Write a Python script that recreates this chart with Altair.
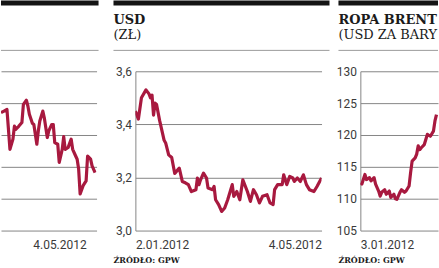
import altair as alt
import pandas as pd

# ---------------- data ----------------
# Left panel: only its right-hand part is visible in the picture (units = gridline steps)
left_dates = ["2012-03-08", "2012-03-10", "2012-03-12", "2012-03-13", "2012-03-14", "2012-03-16",
              "2012-03-17", "2012-03-18", "2012-03-20", "2012-03-22", "2012-03-23", "2012-03-25",
              "2012-03-26", "2012-03-27", "2012-03-29", "2012-03-30", "2012-04-01", "2012-04-02",
              "2012-04-03", "2012-04-05", "2012-04-06", "2012-04-08", "2012-04-09", "2012-04-11",
              "2012-04-12", "2012-04-13", "2012-04-15", "2012-04-16", "2012-04-18", "2012-04-19",
              "2012-04-20", "2012-04-22", "2012-04-24", "2012-04-25", "2012-04-27", "2012-04-28",
              "2012-04-29", "2012-04-30", "2012-05-02", "2012-05-04", "2012-05-05", "2012-05-07",
              "2012-05-08", "2012-05-10"]
left_values = [3.70, 3.75, 3.80, 3.18, 2.55, 2.87,
               3.28, 3.18, 3.28, 3.39, 3.96, 4.09,
               3.91, 3.65, 3.37, 3.33, 2.71, 3.13,
               3.44, 3.75, 3.54, 2.92, 3.13, 3.33,
               3.33, 2.76, 2.71, 2.14, 2.55, 2.95,
               2.55, 2.61, 2.87, 2.55, 2.34, 2.24,
               1.93, 1.15, 1.41, 1.56, 2.34, 2.24,
               2.03, 1.82]
left_ticks = [0, 1, 2, 3, 4, 5]

# USD (zł)
usd_dates = ["2012-01-02", "2012-01-04", "2012-01-06", "2012-01-09", "2012-01-11", "2012-01-12",
             "2012-01-13", "2012-01-14", "2012-01-15", "2012-01-16", "2012-01-18", "2012-01-21",
             "2012-01-22", "2012-01-24", "2012-01-26", "2012-01-28", "2012-01-29", "2012-01-31",
             "2012-02-02", "2012-02-04", "2012-02-06", "2012-02-08", "2012-02-11", "2012-02-12",
             "2012-02-13", "2012-02-14", "2012-02-16", "2012-02-18", "2012-02-19", "2012-02-22",
             "2012-02-23", "2012-02-24", "2012-02-26", "2012-02-28", "2012-03-01", "2012-03-03",
             "2012-03-06", "2012-03-07", "2012-03-09", "2012-03-11", "2012-03-13", "2012-03-16",
             "2012-03-18", "2012-03-20", "2012-03-22", "2012-03-24", "2012-03-26", "2012-03-29",
             "2012-03-31", "2012-04-02", "2012-04-03", "2012-04-05", "2012-04-08", "2012-04-09",
             "2012-04-11", "2012-04-13", "2012-04-15", "2012-04-16", "2012-04-18", "2012-04-20",
             "2012-04-22", "2012-04-24", "2012-04-26", "2012-04-29", "2012-05-01", "2012-05-04"]
usd_values = [3.450, 3.420, 3.500, 3.530, 3.515, 3.500,
              3.510, 3.435, 3.480, 3.475, 3.415, 3.340,
              3.330, 3.285, 3.275, 3.215, 3.222, 3.235,
              3.185, 3.180, 3.173, 3.147, 3.154, 3.198,
              3.173, 3.190, 3.216, 3.198, 3.160, 3.154,
              3.166, 3.116, 3.098, 3.072, 3.085, 3.116,
              3.173, 3.129, 3.147, 3.116, 3.191, 3.147,
              3.110, 3.154, 3.135, 3.104, 3.129, 3.135,
              3.104, 3.098, 3.154, 3.173, 3.173, 3.210,
              3.173, 3.204, 3.198, 3.185, 3.198, 3.185,
              3.210, 3.173, 3.154, 3.147, 3.166, 3.198]
usd_ticks = [3.0, 3.2, 3.4, 3.6]

# Ropa Brent (USD za baryłkę) - only the first part is visible
brent_dates = ["2012-01-03", "2012-01-04", "2012-01-06", "2012-01-07", "2012-01-09", "2012-01-10",
               "2012-01-12", "2012-01-13", "2012-01-15", "2012-01-16", "2012-01-17", "2012-01-19",
               "2012-01-20", "2012-01-22", "2012-01-23", "2012-01-25", "2012-01-26", "2012-01-27",
               "2012-01-29", "2012-01-30", "2012-02-01", "2012-02-02", "2012-02-04", "2012-02-05",
               "2012-02-06", "2012-02-08", "2012-02-09", "2012-02-10", "2012-02-11", "2012-02-12",
               "2012-02-14", "2012-02-15", "2012-02-16", "2012-02-18", "2012-02-20", "2012-02-21",
               "2012-02-22"]
brent_values = [112.5, 112.3, 113.8, 113.0, 113.3, 112.8,
                113.3, 112.3, 111.2, 110.4, 111.0, 111.4,
                110.7, 111.2, 110.2, 110.7, 110.0, 109.9,
                111.0, 111.4, 111.0, 111.2, 112.0, 114.1,
                115.9, 116.4, 117.0, 118.3, 117.7, 118.0,
                118.5, 119.3, 120.1, 119.8, 120.6, 122.2,
                123.2]
brent_ticks = [105, 110, 115, 120, 125, 130]

# ---------------- styling ----------------
LINE = "#a8193f"
GRID = "#858585"
LABEL_FONT = "Roboto"
LABEL_SIZE = 12
SERIF = "DejaVu Serif"
H = 160


def dt(y, m, d):
    return alt.DateTime(year=y, month=m, date=d)


def one_row():
    return pd.DataFrame({"k": [0]})


def panel(dates, values, width, xdom, xticks, ydom, yticks, *, ylabels=True,
          ylabel_expr=None, x_right_align=False, title=None, subtitle=None,
          source=None, left=-22, right_extra=8):
    df = pd.DataFrame({"date": pd.to_datetime(dates), "value": values})
    limit = width + right_extra - left

    x_axis_kwargs = dict(values=xticks, format="%-d.%m.%Y", grid=False, ticks=False,
                         domain=False, labelFont=LABEL_FONT, labelFontSize=LABEL_SIZE,
                         labelColor="#3a3a3a", labelPadding=9, title=None)
    if x_right_align:
        x_axis_kwargs.update(labelAlign="right", labelFlush=False)
    else:
        x_axis_kwargs.update(labelFlush=True)

    y_axis_kwargs = dict(values=yticks, grid=True, gridColor=GRID, gridWidth=1,
                         ticks=False, domain=ylabels, domainColor=GRID, domainWidth=1,
                         labels=ylabels, labelFont=LABEL_FONT, labelFontSize=LABEL_SIZE,
                         labelColor="#3a3a3a", labelPadding=4, title=None)
    if ylabel_expr:
        y_axis_kwargs["labelExpr"] = ylabel_expr

    line = alt.Chart(df).mark_line(color=LINE, strokeWidth=3.2, clip=True,
                                   strokeJoin="round").encode(
        x=alt.X("date:T", scale=alt.Scale(domain=xdom), axis=alt.Axis(**x_axis_kwargs)),
        y=alt.Y("value:Q", scale=alt.Scale(domain=ydom, nice=False, zero=False),
                axis=alt.Axis(**y_axis_kwargs)),
    )

    layers = [line]
    bar = alt.Chart(one_row()).mark_rect(color="#141414").encode(
        x=alt.value(left), x2=alt.value(width + right_extra),
        y=alt.value(-71), y2=alt.value(-66))
    sep = alt.Chart(one_row()).mark_rule(color="#9a9a9a", strokeWidth=1).encode(
        x=alt.value(left), x2=alt.value(width + right_extra), y=alt.value(-21))
    layers += [bar, sep]
    if title:
        layers.append(alt.Chart(one_row()).mark_text(
            align="left", baseline="alphabetic", font=SERIF, fontWeight="bold",
            fontSize=13, color="#1a1a1a", limit=limit, ellipsis="\u200b").encode(
            x=alt.value(left), y=alt.value(-47), text=alt.value(title)))
    if subtitle:
        layers.append(alt.Chart(one_row()).mark_text(
            align="left", baseline="alphabetic", font=SERIF, fontSize=13,
            color="#1a1a1a", limit=limit, ellipsis="\u200b").encode(
            x=alt.value(left), y=alt.value(-32), text=alt.value(subtitle)))
    if source:
        layers.append(alt.Chart(one_row()).mark_text(
            align="left", baseline="alphabetic", font=SERIF, fontWeight="bold",
            fontSize=8, color="#1a1a1a").encode(
            x=alt.value(left), y=alt.value(H + 33), text=alt.value(source)))

    return alt.layer(*layers).properties(width=width, height=H)


p1 = panel(left_dates, left_values, 96, [dt(2012, 3, 8), dt(2012, 5, 11)], [dt(2012, 5, 4)],
           [0, 5], left_ticks, ylabels=False, x_right_align=True, left=0, right_extra=2)

p2 = panel(usd_dates, usd_values, 187, [dt(2012, 1, 2), dt(2012, 5, 4)],
           [dt(2012, 1, 2), dt(2012, 5, 4)], [3.0, 3.6], usd_ticks,
           ylabel_expr="replace(format(datum.value, '.1f'), '.', ',')",
           title="USD", subtitle="(ZŁ)", source="ŹRÓDŁO: GPW")

# Brent panel: only its first ~50 days fit in the picture
p3 = panel(brent_dates, brent_values, 78, [dt(2012, 1, 3), dt(2012, 2, 23)],
           [dt(2012, 1, 3)], [105, 130], brent_ticks,
           title="ROPA BRENT", subtitle="(USD ZA BARYŁKĘ)", source="ŹRÓDŁO: GPW",
           right_extra=0)

chart = alt.hconcat(p1, p2, p3, spacing=39, bounds="flush").configure_view(
    strokeWidth=0).properties(padding=0, background="white")

chart.save("out.html", embed_options={"renderer": "svg", "actions": False})
